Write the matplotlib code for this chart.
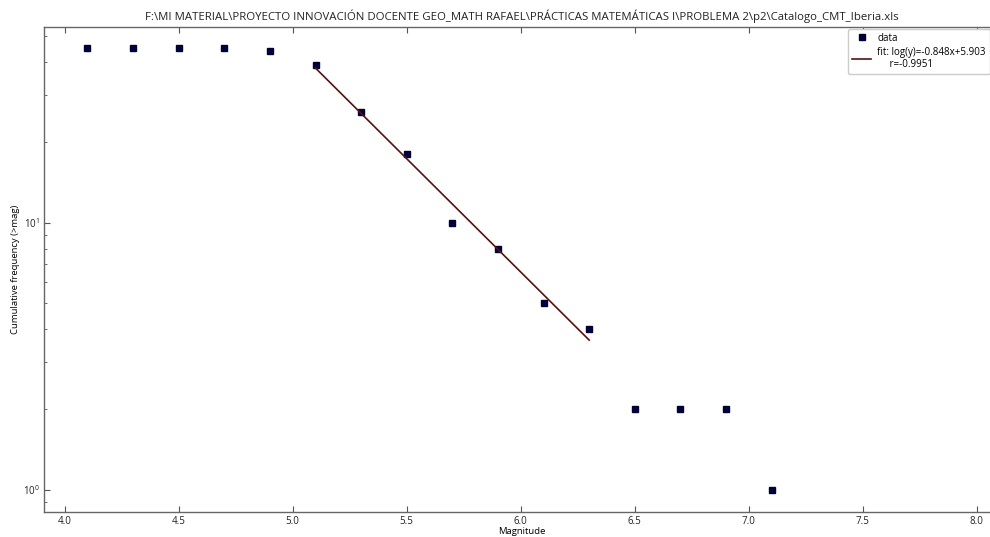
import numpy as np
import matplotlib
matplotlib.use("Agg")
import matplotlib.pyplot as plt

magnitude = [4.1, 4.3, 4.5, 4.7, 4.9, 5.1, 5.3, 5.5, 5.7, 5.9, 6.1, 6.3, 6.5, 6.7, 6.9, 7.1]
cum_freq = [45, 45, 45, 45, 44, 39, 26, 18, 10, 8, 5, 4, 2, 2, 2, 1]
fit_slope = -0.848
fit_intercept = 5.903
fit_r = -0.9951
fit_range = [5.1, 6.3]

title = (u"F:\\MI MATERIAL\\PROYECTO INNOVACIÓN DOCENTE GEO_MATH RAFAEL\\"
         u"PRÁCTICAS MATEMÁTICAS I\\PROBLEMA 2\\p2\\Catalogo_CMT_Iberia.xls")

plt.rcParams['font.family'] = ['Open Sans', 'DejaVu Sans']
plt.rcParams['mathtext.fontset'] = 'custom'
plt.rcParams['mathtext.rm'] = 'Open Sans'
plt.rcParams['mathtext.it'] = 'Open Sans:italic'
fig = plt.figure(figsize=(9.9, 5.37), dpi=100)
ax = fig.add_axes([0.0448, 0.046, 0.965, 0.904])

ax.semilogy(magnitude, cum_freq, 's', color='#000040', markersize=4.5,
            markeredgecolor='#000030', label='data', linestyle='none')
xf = np.array(fit_range)
yf = 10 ** (fit_slope * xf + fit_intercept)
ax.semilogy(xf, yf, '-', color='#5a1010', linewidth=1.2,
            label='fit: log(y)=%.3fx+%.3f\n     r=%.4f' % (fit_slope, fit_intercept, fit_r))

ax.set_xlim(3.911, 8.1)
ax.set_ylim(0.825, 54)
ax.set_xticks([4.0, 4.5, 5.0, 5.5, 6.0, 6.5, 7.0, 7.5, 8.0])
ax.tick_params(which='both', direction='in', top=True, right=True, labelsize=7,
               color='#555555', labelcolor='#222222')
ax.tick_params(which='major', length=4, pad=3)
ax.tick_params(which='minor', length=2)
for s in ax.spines.values():
    s.set_color('#666666')
    s.set_linewidth(1.0)

ax.set_title(title, fontsize=8.2, color='#222222', pad=5)
ax.set_xlabel('Magnitude', fontsize=6.8)
ax.set_ylabel('Cumulative frequency (>mag)', fontsize=6.8)
ax.xaxis.set_label_coords(0.5, -0.031)
ax.yaxis.set_label_coords(-0.0255, 0.5)

ax.legend(loc='upper left', bbox_to_anchor=(848 / 990, 1 - 29 / 537),
          bbox_transform=fig.transFigure, borderaxespad=0,
          fontsize=7.0, numpoints=1, framealpha=1,
          edgecolor='#cccccc', fancybox=True,
          handletextpad=0.6, labelspacing=0.3, borderpad=0.4)

fig.savefig('out.png', dpi=100)
